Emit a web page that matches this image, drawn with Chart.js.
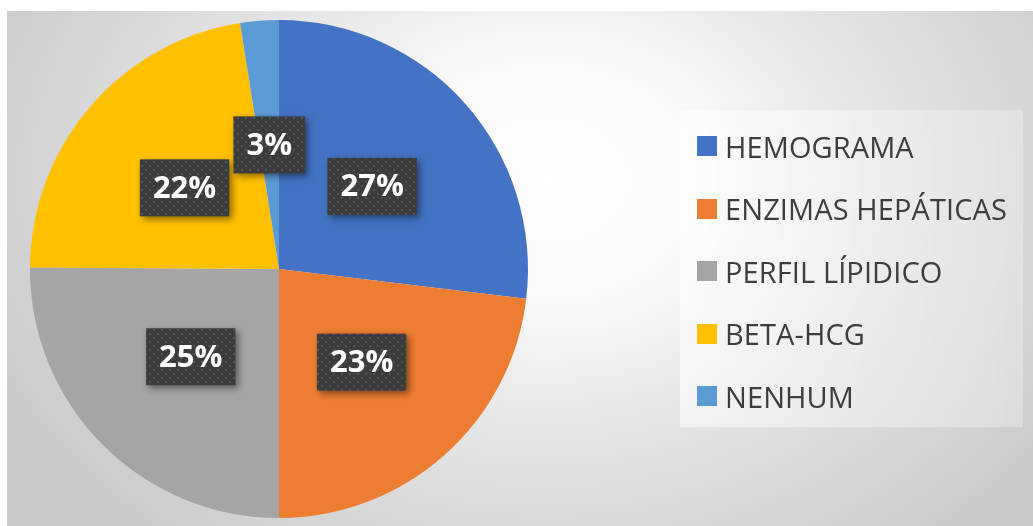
<!DOCTYPE html>
<html>
<head>
<meta charset="utf-8">
<script src="https://cdn.jsdelivr.net/npm/chart.js@4"></script>
<style>
  html, body { margin: 0; padding: 0; background: #ffffff; }
  #wrap { position: relative; width: 1033px; height: 526px; overflow: hidden; background: #ffffff; }
  #bg { position: absolute; left: 7px; top: 11px; width: 1026px; height: 515px;
        background: radial-gradient(ellipse 600px 460px at 540px 170px, #ffffff 0%, #fafafa 25%, #e2e2e2 60%, #cbcbcb 100%); }
  #c { position: absolute; left: 0; top: 0; }
  #legend { position: absolute; left: 680px; top: 110px; width: 343px; height: 317px;
            background: linear-gradient(90deg, rgba(255,255,255,0.55), rgba(240,240,240,0.4));
            box-sizing: border-box; padding-top: 5px; padding-left: 17px; }
  .item { display: flex; align-items: center; height: 62.5px; font-family: "Open Sans", sans-serif;
          font-size: 29px; color: #3d3d3d; white-space: nowrap; letter-spacing: 0.1px; }
  .sw { width: 20px; height: 20px; margin-right: 8px; flex: none; }
</style>
</head>
<body>
<div id="wrap">
  <div id="bg"></div>
  <canvas id="c" width="1033" height="526"></canvas>
  <div id="legend"></div>
</div>
<script>
const categories = ['HEMOGRAMA', 'ENZIMAS HEPÁTICAS', 'PERFIL LÍPIDICO', 'BETA-HCG', 'NENHUM'];
const values = [26.9, 23.1, 25.1, 22.4, 2.5];
const colors = ['#4472C4', '#ED7D31', '#A5A5A5', '#FFC000', '#5B9BD5'];

// HTML legend built from the arrays
const legendEl = document.getElementById('legend');
categories.forEach((name, i) => {
  const it = document.createElement('div');
  it.className = 'item';
  const sw = document.createElement('span');
  sw.className = 'sw';
  sw.style.background = colors[i];
  const tx = document.createElement('span');
  tx.textContent = name;
  it.appendChild(sw); it.appendChild(tx);
  legendEl.appendChild(it);
});

function makePattern(ctx) {
  const p = document.createElement('canvas');
  p.width = 8; p.height = 8;
  const g = p.getContext('2d');
  g.fillStyle = '#3c3c3c';
  g.fillRect(0, 0, 8, 8);
  g.fillStyle = '#55575f';
  g.beginPath(); g.arc(2, 2, 1.1, 0, Math.PI * 2); g.fill();
  g.beginPath(); g.arc(6, 6, 1.1, 0, Math.PI * 2); g.fill();
  return ctx.createPattern(p, 'repeat');
}

const labelBoxes = {
  id: 'labelBoxes',
  afterDatasetsDraw(chart) {
    const ctx = chart.ctx;
    const meta = chart.getDatasetMeta(0);
    const data = chart.data.datasets[0].data;
    const total = data.reduce((a, b) => a + b, 0);
    const pattern = makePattern(ctx);
    ctx.save();
    ctx.font = 'bold 31px "Open Sans", sans-serif';
    ctx.textAlign = 'center';
    ctx.textBaseline = 'middle';
    meta.data.forEach((arc, i) => {
      const pos = arc.tooltipPosition();
      const txt = Math.round(data[i] / total * 100) + '%';
      const w = ctx.measureText(txt).width + 26;
      const h = 57;
      ctx.save();
      ctx.shadowColor = 'rgba(0,0,0,0.45)';
      ctx.shadowBlur = 7;
      ctx.shadowOffsetX = 3;
      ctx.shadowOffsetY = 3;
      ctx.fillStyle = pattern;
      ctx.fillRect(pos.x - w / 2, pos.y - h / 2, w, h);
      ctx.restore();
      ctx.fillStyle = '#ffffff';
      ctx.fillText(txt, pos.x, pos.y + 1);
    });
    ctx.restore();
  }
};

new Chart(document.getElementById('c'), {
  type: 'pie',
  data: {
    labels: categories,
    datasets: [{
      data: values,
      backgroundColor: colors,
      borderWidth: 0
    }]
  },
  options: {
    responsive: false,
    animation: false,
    layout: { padding: { left: 30, top: 20, right: 505, bottom: 8 } },
    plugins: {
      legend: { display: false },
      tooltip: { enabled: false }
    }
  },
  plugins: [labelBoxes]
});
</script>
</body>
</html>
